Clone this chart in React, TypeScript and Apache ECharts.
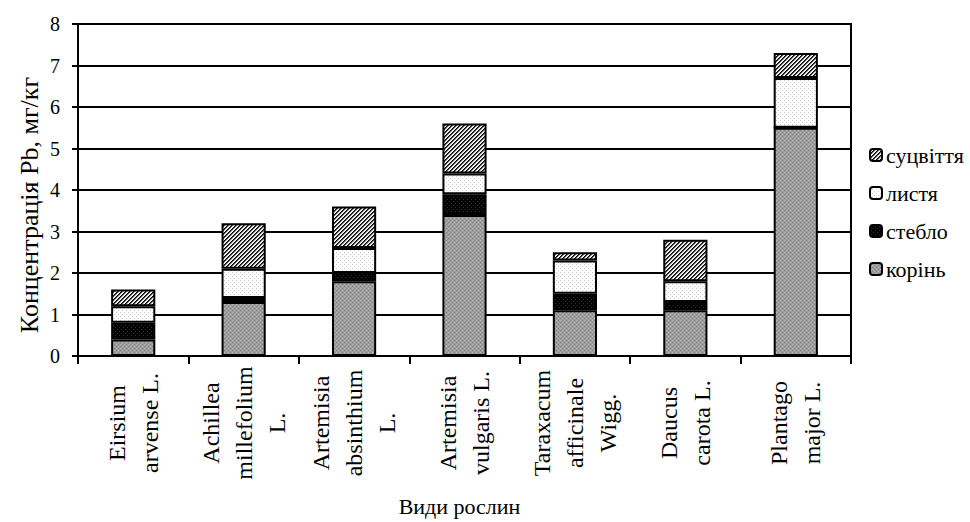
import React, { useEffect, useRef } from "react";
import * as echarts from "echarts";

const categories = [
  "Eirsium\narvense L.",
  "Achillea\nmillefolium\nL.",
  "Artemisia\nabsinthium\nL.",
  "Artemisia\nvulgaris L.",
  "Taraxacum\nafficinale\nWigg.",
  "Daucus\ncarota L.",
  "Plantago\nmajor L.",
];
const seriesNames = ["корінь", "стебло", "листя", "суцвіття"];
const rootValues = [0.4, 1.3, 1.8, 3.4, 1.1, 1.1, 5.5];
const stemValues = [0.4, 0.1, 0.2, 0.5, 0.4, 0.2, 0];
const leafValues = [0.4, 0.7, 0.6, 0.5, 0.8, 0.5, 1.2];
const flowerValues = [0.4, 1.1, 1.0, 1.2, 0.2, 1.0, 0.6];
const yTicks = { min: 0, max: 8, interval: 1 };
const yTitle = "Концентрація Pb, мг/кг";
const xTitle = "Види рослин";

const FONT = "'Liberation Serif', 'Times New Roman', serif";

function makePattern(size: number, base: string, dots: Array<[number, number, string]>) {
  const c = document.createElement("canvas");
  c.width = size;
  c.height = size;
  const ctx = c.getContext("2d")!;
  ctx.fillStyle = base;
  ctx.fillRect(0, 0, size, size);
  for (const [x, y, col] of dots) {
    ctx.fillStyle = col;
    ctx.fillRect(x, y, 1, 1);
  }
  return { image: c, repeat: "repeat" } as any;
}

export default function App() {
  const ref = useRef<HTMLDivElement>(null);
  useEffect(() => {
    if (!ref.current) return;
    const chart = echarts.init(ref.current, undefined, { renderer: "svg" });

    const rootPat = makePattern(4, "#9c9c9c", [
      [0, 0, "#bcbcbc"], [2, 2, "#bcbcbc"], [2, 0, "#808080"], [0, 2, "#808080"],
    ]);
    const stemPat = makePattern(4, "#000000", [[1, 1, "#333333"], [3, 3, "#333333"]]);
    const leafPat = makePattern(4, "#ffffff", [[0, 0, "#c8c8c8"], [2, 2, "#c8c8c8"]]);
    const hatchDots: Array<[number, number, string]> = [];
    const hatchCols = ["#000000", "#4a4a4a", "#d8d8d8", "#ffffff"];
    for (let x = 0; x < 4; x++)
      for (let y = 0; y < 4; y++) hatchDots.push([x, y, hatchCols[(x + y) % 4]]);
    const flowerPat = makePattern(4, "#ffffff", hatchDots);

    const colors = [rootPat, stemPat, leafPat, flowerPat];
    const values = [rootValues, stemValues, leafValues, flowerValues];

    chart.setOption({
      animation: false,
      textStyle: { fontFamily: FONT, color: "#000" },
      grid: {
        left: 78,
        top: 24,
        right: 119,
        bottom: 164,
        show: true,
        borderColor: "#000",
        borderWidth: 2,
      },
      legend: {
        orient: "vertical",
        left: 864,
        top: 139,
        itemWidth: 12,
        itemHeight: 12,
        itemGap: 16,
        data: ["суцвіття", "листя", "стебло", "корінь"],
        textStyle: { fontFamily: FONT, fontSize: 22, color: "#000", padding: [0, 0, 0, -1] },
        itemStyle: { borderColor: "#000", borderWidth: 2 },
      },
      graphic: [
        {
          type: "text",
          x: 29,
          y: 205,
          rotation: Math.PI / 2,
          style: {
            text: yTitle,
            fontFamily: FONT,
            fontSize: 26,
            fill: "#000",
            align: "center",
            verticalAlign: "middle",
          },
        },
      ],
      xAxis: {
        type: "category",
        data: categories,
        name: xTitle,
        nameLocation: "middle",
        nameGap: 139,
        nameTextStyle: { fontFamily: FONT, fontSize: 22, color: "#000", verticalAlign: "top", padding: [0, 10, 0, 0] },
        axisLine: { lineStyle: { color: "#000", width: 2 } },
        axisTick: { show: true, length: 8, lineStyle: { color: "#000", width: 2 } },
        axisLabel: {
          interval: 0,
          rotate: 90,
          align: "center",
          verticalAlign: "middle",
          margin: 67,
          lineHeight: 33,
          fontFamily: FONT,
          fontSize: 24,
          color: "#000",
        },
      },
      yAxis: {
        type: "value",
        min: yTicks.min,
        max: yTicks.max,
        interval: yTicks.interval,
        axisLine: { show: true, lineStyle: { color: "#000", width: 2 } },
        axisTick: { show: true, length: 6, lineStyle: { color: "#000", width: 2 } },
        axisLabel: { fontFamily: FONT, fontSize: 20, color: "#000", margin: 18 },
        splitLine: { show: true, lineStyle: { color: "#000", width: 2 } },
      },
      series: seriesNames.map((name, i) => ({
        name,
        type: "bar",
        stack: "total",
        barWidth: "40%",
        data: values[i],
        itemStyle: { color: colors[i], borderColor: "#000", borderWidth: 2 },
      })),
    });
    return () => chart.dispose();
  }, []);
  return (
    <div
      ref={ref}
      style={{ position: "fixed", left: 0, top: 0, width: 970, height: 522, background: "#fff" }}
    />
  );
}
